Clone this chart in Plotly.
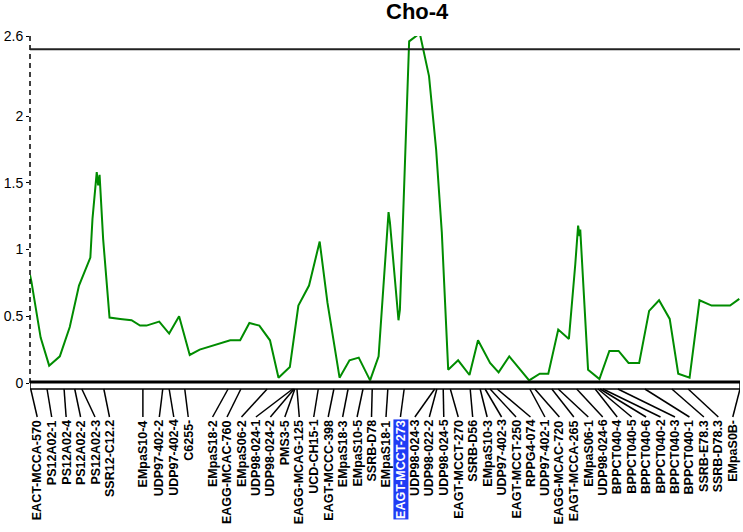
import plotly.graph_objects as go

# ---------------- data ----------------
chart_title = "Cho-4"
chrom_len = 100.0          # cM
threshold = 2.5            # LOD threshold

marker_names = [
    "EACT-MCCA-570", "PS12A02-1", "PS12A02-4", "PS12A02-2", "PS12A02-3", "SSR12-C12.2",
    "EMpaS10-4", "UDP97-402-2", "UDP97-402-4", "C6255-",
    "EMpaS18-2", "EAGG-MCAC-760", "EMpaS06-2", "UDP98-024-1", "UDP98-024-2", "PMS3-5",
    "EAGG-MCAG-125", "UCD-CH15-1", "EAGT-MCCC-398", "EMpaS18-3", "EMpaS10-5", "SSRB-D78",
    "EMpaS18-1", "EAGT-MCCT-273", "UDP98-024-3", "UDP98-022-2", "UDP98-024-5",
    "EAGT-MCCT-270", "SSRB-D56", "EMpaS10-3", "UDP97-402-3", "EAGT-MCCT-250", "RPPG4-074",
    "UDP97-402-1", "EAGG-MCAC-720", "EAGT-MCCA-265", "EMpaS06-1", "UDP98-024-6",
    "BPPCT040-4", "BPPCT040-5", "BPPCT040-6", "BPPCT040-2", "BPPCT040-3", "BPPCT040-1",
    "SSRB-E78.3", "SSRB-D78.3", "EMpaS0B-",
]
marker_pos = [
    0.1, 2.4, 4.8, 6.3, 7.3, 10.4,
    15.9, 18.7, 19.6, 21.8,
    27.9, 29.7, 33.4, 37.0, 37.2, 37.3,
    37.6, 40.6, 42.8, 44.8, 46.9, 48.2,
    50.4, 52.7, 57.0, 57.3, 58.2,
    59.2, 62.0, 63.4, 64.1, 64.8, 65.8,
    70.4, 71.1, 73.5, 74.4, 77.0,
    79.6, 80.0, 80.3, 80.7, 82.8, 86.6,
    90.4, 92.7, 100.0,
]
highlight_marker = "EAGT-MCCT-273"

curve_pos = [
    0.0, 0.2, 1.5, 2.7, 4.2, 5.6, 6.9, 8.5, 8.8, 9.4, 9.6, 9.8, 10.3, 11.2,
    12.7, 14.3, 15.5, 16.4, 18.2, 19.6, 21.0, 22.5, 23.9, 25.8, 28.2, 29.6,
    30.9, 32.3, 33.8, 35.0, 36.6, 37.8, 39.3, 40.8, 41.9, 43.6, 45.0, 46.3,
    47.9, 49.1, 50.5, 50.7, 51.9, 52.1, 52.6, 53.1, 53.4, 54.9, 56.2, 57.2,
    58.0, 58.9, 60.3, 61.9, 63.1, 64.8, 66.0, 67.5, 70.3, 71.8, 73.0, 74.4,
    75.9, 76.8, 77.2, 77.4, 77.5, 78.6, 80.2, 81.6, 82.9, 84.3, 85.8, 87.2,
    88.6, 90.1, 91.3, 92.9, 94.3, 96.0, 98.6, 99.9,
]
curve_lod = [
    0.81, 0.76, 0.34, 0.13, 0.20, 0.42, 0.73, 0.94, 1.23, 1.58, 1.48, 1.56, 1.08, 0.49,
    0.48, 0.47, 0.43, 0.43, 0.46, 0.37, 0.50, 0.21, 0.25, 0.28, 0.32, 0.32,
    0.45, 0.43, 0.32, 0.04, 0.12, 0.58, 0.73, 1.06, 0.60, 0.04, 0.17, 0.19,
    0.02, 0.20, 1.28, 1.20, 0.47, 0.55, 1.33, 2.12, 2.56, 2.62, 2.30, 1.75,
    1.13, 0.10, 0.17, 0.06, 0.32, 0.15, 0.08, 0.20, 0.02, 0.07, 0.07, 0.40,
    0.33, 0.89, 1.18, 1.10, 1.15, 0.10, 0.03, 0.24, 0.24, 0.15, 0.15, 0.54,
    0.62, 0.48, 0.07, 0.04, 0.62, 0.58, 0.58, 0.63,
]

y_tick_vals = [0, 0.5, 1, 1.5, 2, 2.6]
y_tick_text = ["0", "0.5", "1", "1.5", "2", "2.6"]
y_max = 2.6

# ---------------- layout constants ----------------
W, H = 743, 532
ML, MR, MT, MB = 30, 3, 36, 149
PLOT_W = W - ML - MR
PLOT_H = H - MT - MB
PLOT_BOTTOM = H - MB
FONT = "Arial, Liberation Sans, sans-serif"
GREEN = "#008c00"


def py(pix):
    """pixel row -> paper y"""
    return (PLOT_BOTTOM - pix) / PLOT_H


label_gap = 14.45 * chrom_len / PLOT_W   # minimum label spacing (cM)


def spread_labels(pos, gap, lo, hi):
    clusters = []

    def place(c):
        ps = [pos[i] for i in c]
        n = len(c)
        start = (min(ps) + max(ps)) / 2 - (n - 1) * gap / 2
        start = max(lo, min(start, hi - (n - 1) * gap))
        return start

    for i in reversed(range(len(pos))):
        clusters.insert(0, [i])
        merged = True
        while merged:
            merged = False
            for k in range(len(clusters) - 1):
                a, b = clusters[k], clusters[k + 1]
                end_a = place(a) + (len(a) - 1) * gap
                if place(b) - end_a < gap - 1e-9:
                    clusters[k:k + 2] = [a + b]
                    merged = True
                    break
    out = [0.0] * len(pos)
    for c in clusters:
        s = place(c)
        for j, i in enumerate(c):
            out[i] = s + j * gap
    return out


label_pos = spread_labels(marker_pos, label_gap, label_gap / 2, chrom_len - label_gap / 2)

fig = go.Figure()
fig.add_trace(go.Scatter(
    x=curve_pos, y=curve_lod, mode="lines",
    line=dict(color=GREEN, width=2), cliponaxis=False,
    hoverinfo="x+y", showlegend=False,
))

shapes = []
# dashed LOD axis
shapes.append(dict(type="line", xref="paper", yref="paper", x0=0, x1=0, y0=0, y1=1,
                   line=dict(color="black", width=1.5, dash="5px,4px")))
# threshold line
shapes.append(dict(type="line", xref="x", yref="y", x0=0, x1=chrom_len,
                   y0=threshold, y1=threshold, line=dict(color="#222222", width=2)))
# chromosome bar
shapes.append(dict(type="rect", xref="x", yref="paper", x0=0, x1=chrom_len,
                   y0=py(389), y1=py(382), fillcolor="white",
                   line=dict(color="black", width=1.5)))
shapes.append(dict(type="line", xref="x", yref="paper", x0=0, x1=chrom_len,
                   y0=py(382), y1=py(382), line=dict(color="black", width=3)))
# connectors
for mp, lp in zip(marker_pos, label_pos):
    shapes.append(dict(type="line", xref="x", yref="paper", x0=mp, x1=lp,
                       y0=py(389), y1=py(417), line=dict(color="black", width=1.5)))

annotations = []
for name, lp in zip(marker_names, label_pos):
    hl = name == highlight_marker
    annotations.append(dict(
        x=lp, y=py(419), xref="x", yref="paper", text="<b>" + name + "</b>", showarrow=False,
        textangle=-90, xanchor="center", yanchor="top", borderpad=0,
        bgcolor="#1f3cf5" if hl else "rgba(0,0,0,0)",
        font=dict(family=FONT, size=12.5, color="white" if hl else "black"),
    ))
annotations.append(dict(
    x=(417 - ML) / PLOT_W, y=py(12), xref="paper", yref="paper",
    text="<b>" + chart_title + "</b>", showarrow=False,
    xanchor="center", yanchor="middle",
    font=dict(family=FONT, size=22, color="black"),
))

fig.update_layout(
    width=W, height=H,
    margin=dict(l=ML, r=MR, t=MT, b=MB, pad=0, autoexpand=False),
    paper_bgcolor="white", plot_bgcolor="white",
    shapes=shapes, annotations=annotations,
    xaxis=dict(range=[0, chrom_len], visible=False, fixedrange=True, automargin=False),
    yaxis=dict(range=[0, y_max], tickvals=y_tick_vals, ticktext=y_tick_text,
               showgrid=False, zeroline=False, showline=False, automargin=False,
               ticks="outside", ticklen=3, tickcolor="black",
               tickfont=dict(family=FONT, size=14, color="black"), fixedrange=True),
    showlegend=False,
)

fig.write_html(
    "out.html",
    config={"displayModeBar": False},
    post_script="document.body.style.margin='0px';document.body.style.padding='0px';",
)
